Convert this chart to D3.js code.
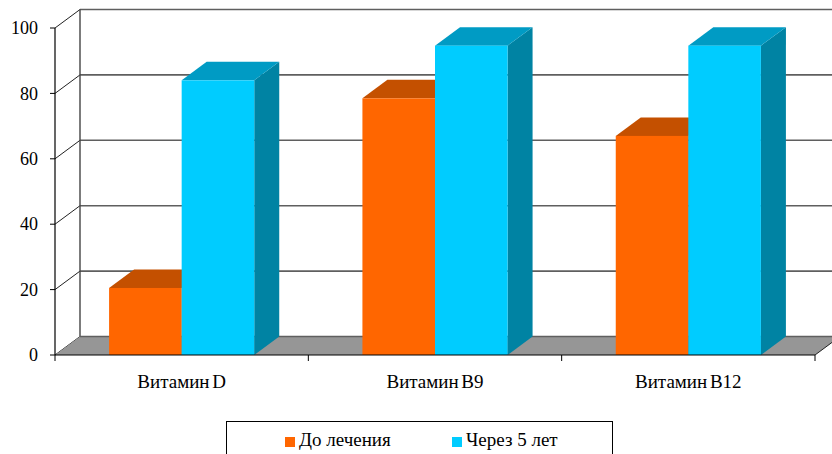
<!DOCTYPE html>
<html>
<head>
<meta charset="utf-8">
<script src="https://cdn.jsdelivr.net/npm/d3@7"></script>
<style>
    html, body { margin: 0; padding: 0; background: #fff; }
    svg { display: block; }
</style>
</head>
<body>
<svg id="chart" width="832" height="454"></svg>
<script>
// ============================================================================
// DATA
// ============================================================================
const categories = ["Витамин D", "Витамин B9", "Витамин B12"];
const seriesNames = ["До лечения", "Через 5 лет"];
const beforeValues = [20.5, 78.5, 67];
const afterValues = [84, 94.6, 94.6];
const yTicks = [0, 20, 40, 60, 80, 100];

// front / top / side shades for each series
const SERIES_COLORS = {
    "До лечения": { front: "#ff6600", top: "#c45000", side: "#a84400" },
    "Через 5 лет": { front: "#00ccff", top: "#009bc4", side: "#0083a3" }
};

const FONT = "'Times New Roman'";

// ============================================================================
// LAYOUT
// ============================================================================
const width = 832, height = 454;
const plot = { left: 55, right: 815, top: 28, bottom: 355 };
const depth = { dx: 25, dy: -18.5 };   // oblique offset of the back wall

const svg = d3.select("#chart");

const y = d3.scaleLinear()
    .domain([0, 100])
    .range([plot.bottom, plot.top]);

const x0 = d3.scaleBand()
    .domain(categories)
    .range([plot.left, plot.right])
    .paddingInner(0.427)
    .paddingOuter(0.2135);

const x1 = d3.scaleBand()
    .domain(seriesNames)
    .range([0, x0.bandwidth()]);

const rows = categories.map((c, i) => ({
    category: c,
    values: [
        { series: seriesNames[0], value: beforeValues[i] },
        { series: seriesNames[1], value: afterValues[i] }
    ]
}));

// ============================================================================
// WALLS & FLOOR
// ============================================================================
const walls = svg.append("g");

// back wall gridlines
walls.selectAll(".grid")
    .data(yTicks.filter(t => t > 0))
    .join("line")
    .attr("x1", plot.left + depth.dx)
    .attr("x2", width + 20)
    .attr("y1", d => y(d) + depth.dy)
    .attr("y2", d => y(d) + depth.dy)
    .attr("stroke", "#5f5f5f")
    .attr("stroke-width", 1.6);

// left wall diagonals
walls.selectAll(".side-grid")
    .data(yTicks)
    .join("line")
    .attr("x1", plot.left)
    .attr("x2", plot.left + depth.dx)
    .attr("y1", d => y(d))
    .attr("y2", d => y(d) + depth.dy)
    .attr("stroke", "#222")
    .attr("stroke-width", 1);

// back-left vertical edge
walls.append("line")
    .attr("x1", plot.left + depth.dx)
    .attr("x2", plot.left + depth.dx)
    .attr("y1", y(0) + depth.dy)
    .attr("y2", y(100) + depth.dy)
    .attr("stroke", "#444")
    .attr("stroke-width", 1.4);

// floor
const fy = y(0);
walls.append("path")
    .attr("d", `M${plot.left},${fy} L${plot.right},${fy} L${plot.right + depth.dx},${fy + depth.dy} L${plot.left + depth.dx},${fy + depth.dy} Z`)
    .attr("fill", "#969696")
    .attr("stroke", "none");

walls.append("line")
    .attr("x1", plot.left + depth.dx)
    .attr("x2", plot.right + depth.dx)
    .attr("y1", fy + depth.dy)
    .attr("y2", fy + depth.dy)
    .attr("stroke", "#5f5f5f")
    .attr("stroke-width", 1.4);

walls.append("line")
    .attr("x1", plot.right)
    .attr("x2", plot.right + depth.dx)
    .attr("y1", fy)
    .attr("y2", fy + depth.dy)
    .attr("stroke", "#222")
    .attr("stroke-width", 1);

// ============================================================================
// BARS
// ============================================================================
const bars = svg.append("g")
    .selectAll("g")
    .data(rows)
    .join("g")
    .attr("transform", d => `translate(${x0(d.category)},0)`);

function drawBar(sel) {
    sel.each(function (d) {
        const g = d3.select(this);
        const bx = x1(d.series), bw = x1.bandwidth();
        const top = y(d.value), base = y(0);
        const c = SERIES_COLORS[d.series];

        // right side face
        g.append("path")
            .attr("d", `M${bx + bw},${base} L${bx + bw + depth.dx},${base + depth.dy} L${bx + bw + depth.dx},${top + depth.dy} L${bx + bw},${top} Z`)
            .attr("fill", c.side);

        // top face
        g.append("path")
            .attr("d", `M${bx},${top} L${bx + bw},${top} L${bx + bw + depth.dx},${top + depth.dy} L${bx + depth.dx},${top + depth.dy} Z`)
            .attr("fill", c.top);

        // front face
        g.append("rect")
            .attr("x", bx)
            .attr("y", top)
            .attr("width", bw)
            .attr("height", base - top)
            .attr("fill", c.front);
    });
}

bars.selectAll("g.bar")
    .data(d => d.values)
    .join("g")
    .attr("class", "bar")
    .call(drawBar);

// ============================================================================
// AXES
// ============================================================================
const axes = svg.append("g");

// value axis
axes.append("line")
    .attr("x1", plot.left).attr("x2", plot.left)
    .attr("y1", y(0)).attr("y2", y(100))
    .attr("stroke", "#000").attr("stroke-width", 1.2);

axes.selectAll(".ytick")
    .data(yTicks)
    .join("line")
    .attr("x1", plot.left - 5).attr("x2", plot.left)
    .attr("y1", d => y(d)).attr("y2", d => y(d))
    .attr("stroke", "#000");

axes.selectAll(".ylabel")
    .data(yTicks)
    .join("text")
    .attr("x", plot.left - 17)
    .attr("y", d => y(d))
    .attr("dy", "0.34em")
    .attr("text-anchor", "end")
    .style("font-family", FONT)
    .style("font-size", "18px")
    .text(d => d);

// category axis
axes.append("line")
    .attr("x1", plot.left).attr("x2", plot.right)
    .attr("y1", y(0)).attr("y2", y(0))
    .attr("stroke", "#000").attr("stroke-width", 1.2);

const boundaries = categories.map(c => x0(c) + x0.bandwidth() / 2 - x0.step() / 2)
    .concat([x0(categories[categories.length - 1]) + x0.bandwidth() / 2 + x0.step() / 2]);

axes.selectAll(".xtick")
    .data(boundaries)
    .join("line")
    .attr("x1", d => d).attr("x2", d => d)
    .attr("y1", y(0)).attr("y2", y(0) + 6)
    .attr("stroke", "#000");

axes.selectAll(".xlabel")
    .data(categories)
    .join("text")
    .attr("x", d => x0(d) + x0.bandwidth() / 2)
    .attr("y", y(0) + 33)
    .attr("text-anchor", "middle")
    .style("font-family", FONT)
    .style("font-size", "19px")
    .style("word-spacing", "-2px")
    .text(d => d);

// ============================================================================
// LEGEND
// ============================================================================
const legend = svg.append("g").attr("transform", "translate(226,421)");

legend.append("rect")
    .attr("x", 0.5).attr("y", 0.5)
    .attr("width", 386).attr("height", 60)
    .attr("fill", "#fff")
    .attr("stroke", "#000");

const legendItems = legend.selectAll(".item")
    .data(seriesNames)
    .join("g")
    .attr("transform", (d, i) => `translate(${59 + i * 167},0)`);

legendItems.append("rect")
    .attr("x", 0).attr("y", 16)
    .attr("width", 10).attr("height", 10)
    .attr("fill", d => SERIES_COLORS[d].front);

legendItems.append("text")
    .attr("x", 14)
    .attr("y", 25)
    .style("font-family", FONT)
    .style("font-size", "19px")
    .text(d => d);
</script>
</body>
</html>
